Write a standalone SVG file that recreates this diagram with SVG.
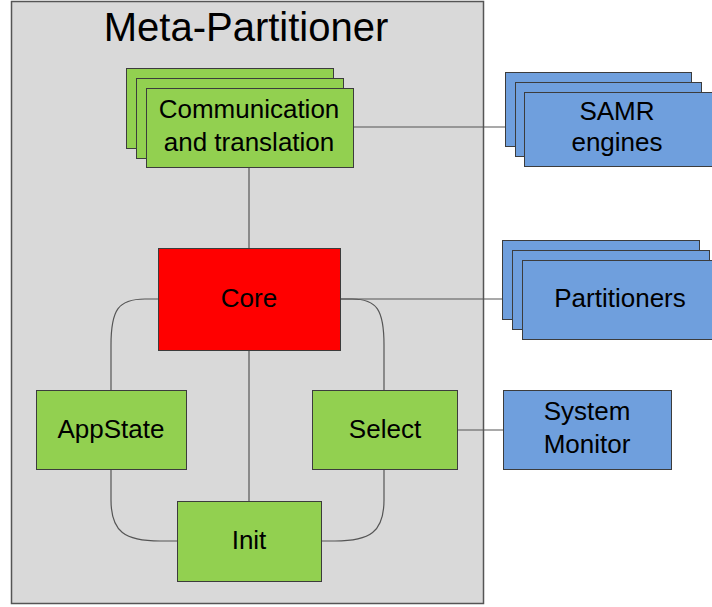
<svg xmlns="http://www.w3.org/2000/svg" width="712" height="607" viewBox="0 0 712 607">
<style>
text{font-family:"Liberation Sans",Arial,sans-serif;font-size:26px;fill:#000;text-anchor:middle}
.g{fill:#92d050;stroke:#3c3c3c;stroke-width:1}
.b{fill:#6f9fdd;stroke:#3c3c3c;stroke-width:1}
.r{fill:#ff0000;stroke:#3c3c3c;stroke-width:1}
.c{fill:none;stroke:#555;stroke-width:1.2}
</style>
<rect width="712" height="607" fill="#fff"/>
<g id="meta-partitioner">
<rect x="11.5" y="1.5" width="472" height="602" fill="#d9d9d9" stroke="#555" stroke-width="1.5"/>
<text x="246" y="41" style="font-size:40px">Meta-Partitioner</text>
</g>
<g id="connectors">
<path class="c" d="M353,127 H524"/>
<path class="c" d="M249,167 V248"/>
<path class="c" d="M249,350 V501"/>
<path class="c" d="M340,299 H522"/>
<path class="c" d="M457,430 H503"/>
<path class="c" d="M158,299 H145 C118,299 111,310 111,345 V390"/>
<path class="c" d="M340,299 H352 C377,299 384,310 384,345 V390"/>
<path class="c" d="M111,469 V500 C111,532 125,541 160,541 H177"/>
<path class="c" d="M384,469 V500 C384,532 370,541 335,541 H321"/>
</g>
<g id="comm">
<rect class="g" x="126.5" y="68.5" width="207" height="80"/>
<rect class="g" x="136.5" y="78.5" width="207" height="80"/>
<rect class="g" x="146.5" y="88.5" width="207" height="79"/>
<text x="249" y="118">Communication</text>
<text x="249" y="151">and translation</text>
</g>
<g id="samr">
<rect class="b" x="505.5" y="72.5" width="186" height="74"/>
<rect class="b" x="515.5" y="82.5" width="186" height="74"/>
<rect class="b" x="524.5" y="92.5" width="188" height="74"/>
<text x="617" y="120">SAMR</text>
<text x="617" y="151">engines</text>
</g>
<g id="partitioners">
<rect class="b" x="502.5" y="240.5" width="197" height="79"/>
<rect class="b" x="512.5" y="250.5" width="197" height="79"/>
<rect class="b" x="522.5" y="260.5" width="192" height="79"/>
<text x="620" y="307">Partitioners</text>
</g>
<g id="system-monitor">
<rect class="b" x="503.5" y="390.5" width="168" height="79"/>
<text x="587" y="420">System</text>
<text x="587" y="453">Monitor</text>
</g>
<g id="core">
<rect class="r" x="158.5" y="248.5" width="182" height="102"/>
<text x="249" y="307">Core</text>
</g>
<g id="appstate">
<rect class="g" x="36.5" y="390.5" width="150" height="79"/>
<text x="111" y="438">AppState</text>
</g>
<g id="select">
<rect class="g" x="312.5" y="390.5" width="145" height="79"/>
<text x="385" y="438">Select</text>
</g>
<g id="init">
<rect class="g" x="177.5" y="501.5" width="144" height="80"/>
<text x="249" y="549">Init</text>
</g>
</svg>
